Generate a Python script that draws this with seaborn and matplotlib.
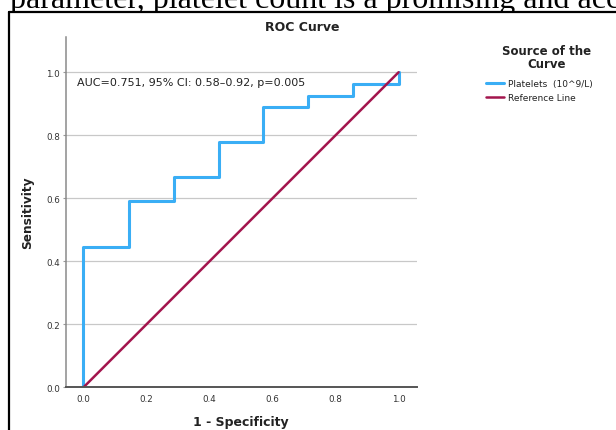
import numpy as np
import pandas as pd
import matplotlib
matplotlib.use("Agg")
import matplotlib.pyplot as plt
from matplotlib.lines import Line2D
from matplotlib.patches import Rectangle
import seaborn as sns

# ROC staircase (7 negatives, 27 positives)
fpr = [0.0, 0.0, 0.143, 0.143, 0.286, 0.286, 0.429, 0.429, 0.571, 0.571,
       0.714, 0.714, 0.857, 0.857, 1.0, 1.0]
tpr = [0.0, 0.444, 0.444, 0.593, 0.593, 0.667, 0.667, 0.778, 0.778, 0.889,
       0.889, 0.926, 0.926, 0.963, 0.963, 1.0]
ref_x = [0.0, 1.0]
ref_y = [0.0, 1.0]
y_ticks = [0.0, 0.2, 0.4, 0.6, 0.8, 1.0]
x_ticks = [0.0, 0.2, 0.4, 0.6, 0.8, 1.0]
auc_text = "AUC=0.751, 95% CI: 0.58\u20130.92, p=0.005"
series_labels = ["Platelets  (10^9/L)", "Reference Line"]

W, H = 616, 431

sns.set_theme(style="white")
plt.rcParams['font.family'] = ['DejaVu Sans']

fig = plt.figure(figsize=(W / 100, H / 100), dpi=100)
ax = fig.add_axes([65.7 / W, 1 - 388.3 / H, (416.5 - 65.7) / W, (388.3 - 37.7) / H])

roc = pd.DataFrame({"fpr": fpr, "tpr": tpr})
sns.lineplot(data=roc, x="fpr", y="tpr", sort=False, estimator=None,
             color="#3aaef5", lw=2.2, ax=ax, label=series_labels[0])
sns.lineplot(x=ref_x, y=ref_y, sort=False, estimator=None,
             color="#a3154d", lw=1.8, ax=ax, label=series_labels[1])

ax.set_xlim(-0.0565, 1.057)
ax.set_ylim(0, 1.113)
ax.set_xticks(x_ticks)
ax.set_yticks(y_ticks)
ax.set_xticklabels([f"{v:.1f}" for v in x_ticks])
ax.set_yticklabels([f"{v:.1f}" for v in y_ticks])
ax.tick_params(axis="x", length=0, pad=5, labelsize=6.3, labelcolor="#333333")
ax.tick_params(axis="y", left=True, length=2.5, width=0.8, color="#999999",
               pad=1.5, labelsize=6.3, labelcolor="#333333")
for yv in y_ticks[1:]:
    ax.axhline(yv, color="#c8c8c8", lw=0.9, zorder=0)
ax.set_xlabel("")
ax.set_ylabel("")
for s in ["top", "right"]:
    ax.spines[s].set_visible(False)
ax.spines["left"].set_color("#8a8a8a")
ax.spines["left"].set_linewidth(1.1)
ax.spines["bottom"].set_color("#555555")
ax.spines["bottom"].set_linewidth(1.4)

ax.text(-0.02, 0.97, auc_text, fontsize=8, color="#222222", va="center", ha="left")

# titles / labels
fig.text(302 / W, 1 - 28 / H, "ROC Curve", fontsize=9, fontweight="bold",
         ha="center", va="center", color="#222222")
fig.text(241 / W, 1 - 422.7 / H, "1 - Specificity", fontsize=9, fontweight="bold",
         ha="center", va="center", color="#222222")
fig.text(28 / W, 1 - 213 / H, "Sensitivity", fontsize=8.7, fontweight="bold",
         ha="center", va="center", rotation=90, color="#222222")

# legend
fig.text(547 / W, 1 - 58 / H, "Source of the\nCurve", fontsize=8.5, fontweight="bold",
         ha="center", va="center", linespacing=0.95, color="#222222")
leg = ax.legend(loc="upper left", bbox_to_anchor=(486 / W, 1 - 80 / H),
                bbox_transform=fig.transFigure, frameon=False, fontsize=6.5,
                handlelength=2.0, handletextpad=0.4, labelspacing=0.6,
                borderpad=0, borderaxespad=0)
for t in leg.get_texts():
    t.set_color("#222222")

# surrounding page: the line of body text above, hidden below by the chart box
fig.text(0.016, 1 - 7.8 / H, "parameter, platelet count is a promising and accurate",
         fontsize=23, family="Liberation Serif", ha="left", va="baseline",
         color="black", zorder=-2)
fig.add_artist(Rectangle((9 / W, 0), 1, 1 - 12.5 / H, transform=fig.transFigure,
                         facecolor="white", edgecolor="none", zorder=-1))
fig.add_artist(Line2D([9 / W, 1.0], [1 - 12.5 / H, 1 - 12.5 / H], color="black", lw=1.6))
fig.add_artist(Line2D([9 / W, 9 / W], [0.0, 1 - 12.5 / H], color="black", lw=1.6))

fig.savefig("out.png", dpi=100)
